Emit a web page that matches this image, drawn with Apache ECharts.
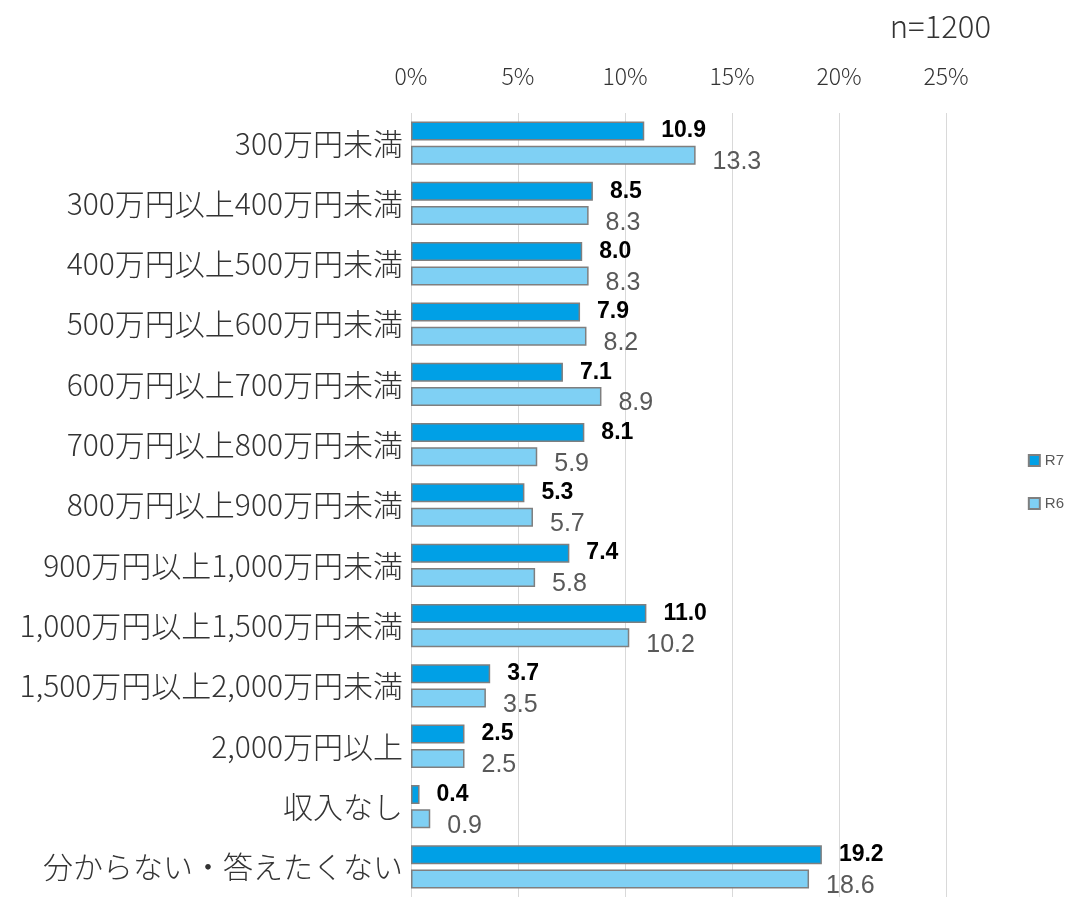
<!DOCTYPE html>
<html>
<head>
<meta charset="utf-8">
<script src="https://cdn.jsdelivr.net/npm/echarts@6/dist/echarts.min.js"></script>
<style>
  html, body { margin: 0; padding: 0; background: #fff; }
  #chart { width: 1075px; height: 897px; }
</style>
</head>
<body>
<div id="chart"></div>
<script>
const categories = [
  '300万円未満',
  '300万円以上400万円未満',
  '400万円以上500万円未満',
  '500万円以上600万円未満',
  '600万円以上700万円未満',
  '700万円以上800万円未満',
  '800万円以上900万円未満',
  '900万円以上1,000万円未満',
  '1,000万円以上1,500万円未満',
  '1,500万円以上2,000万円未満',
  '2,000万円以上',
  '収入なし',
  '分からない・答えたくない'
]
const r7 = [10.9, 8.5, 8.0, 7.9, 7.1, 8.1, 5.3, 7.4, 11.0, 3.7, 2.5, 0.4, 19.2]
const r6 = [13.3, 8.3, 8.3, 8.2, 8.9, 5.9, 5.7, 5.8, 10.2, 3.5, 2.5, 0.9, 18.6]
const seriesNames = ['R7', 'R6']
const xTicks = [0, 5, 10, 15, 20, 25]

const jp = '"Noto Sans CJK JP", "Noto Sans", sans-serif'
const num = '"Liberation Sans", Arial, sans-serif'

const chart = echarts.init(document.getElementById('chart'))

chart.setOption({
  animation: false,
  graphic: [{
    type: 'text', right: 84, top: 11,
    style: { text: 'n=1200', font: '300 31px ' + jp, fill: '#333' }
  }],
  legend: {
    orient: 'vertical',
    right: 6,
    top: 448,
    itemGap: 28,
    itemWidth: 11,
    itemHeight: 11,
    icon: 'rect',
    data: seriesNames,
    textStyle: { color: '#595959', fontSize: 15, fontFamily: num }
  },
  grid: { left: 411, right: 129, top: 113, height: 791 },
  xAxis: {
    type: 'value',
    position: 'top',
    min: xTicks[0],
    max: xTicks[xTicks.length - 1],
    interval: 5,
    axisLine: { show: false },
    axisTick: { show: false },
    axisLabel: { formatter: '{value}%', color: '#333', fontSize: 23, fontWeight: 300, fontFamily: jp, margin: 25 },
    splitLine: { lineStyle: { color: '#d9d9d9', width: 1 } }
  },
  yAxis: {
    type: 'category',
    inverse: true,
    data: categories,
    axisLine: { show: false },
    axisTick: { show: false },
    axisLabel: { color: '#333', fontSize: 30, fontWeight: 300, fontFamily: jp, margin: 8 }
  },
  series: [
    {
      name: seriesNames[0],
      type: 'bar',
      data: r7,
      barWidth: 19,
      barGap: '28%',
      itemStyle: { color: '#00a0e6', borderColor: '#7f7f7f', borderWidth: 1.5 },
      label: {
        show: true, position: 'right', distance: 17,
        formatter: p => p.value.toFixed(1),
        color: '#000', fontWeight: 'bold', fontSize: 23, fontFamily: num
      }
    },
    {
      name: seriesNames[1],
      type: 'bar',
      data: r6,
      barWidth: 19,
      itemStyle: { color: '#7fd0f4', borderColor: '#7f7f7f', borderWidth: 1.5 },
      label: {
        show: true, position: 'right', distance: 17, offset: [0, 7],
        formatter: p => p.value.toFixed(1),
        color: '#595959', fontSize: 25, fontFamily: num
      }
    }
  ]
})
</script>
</body>
</html>
